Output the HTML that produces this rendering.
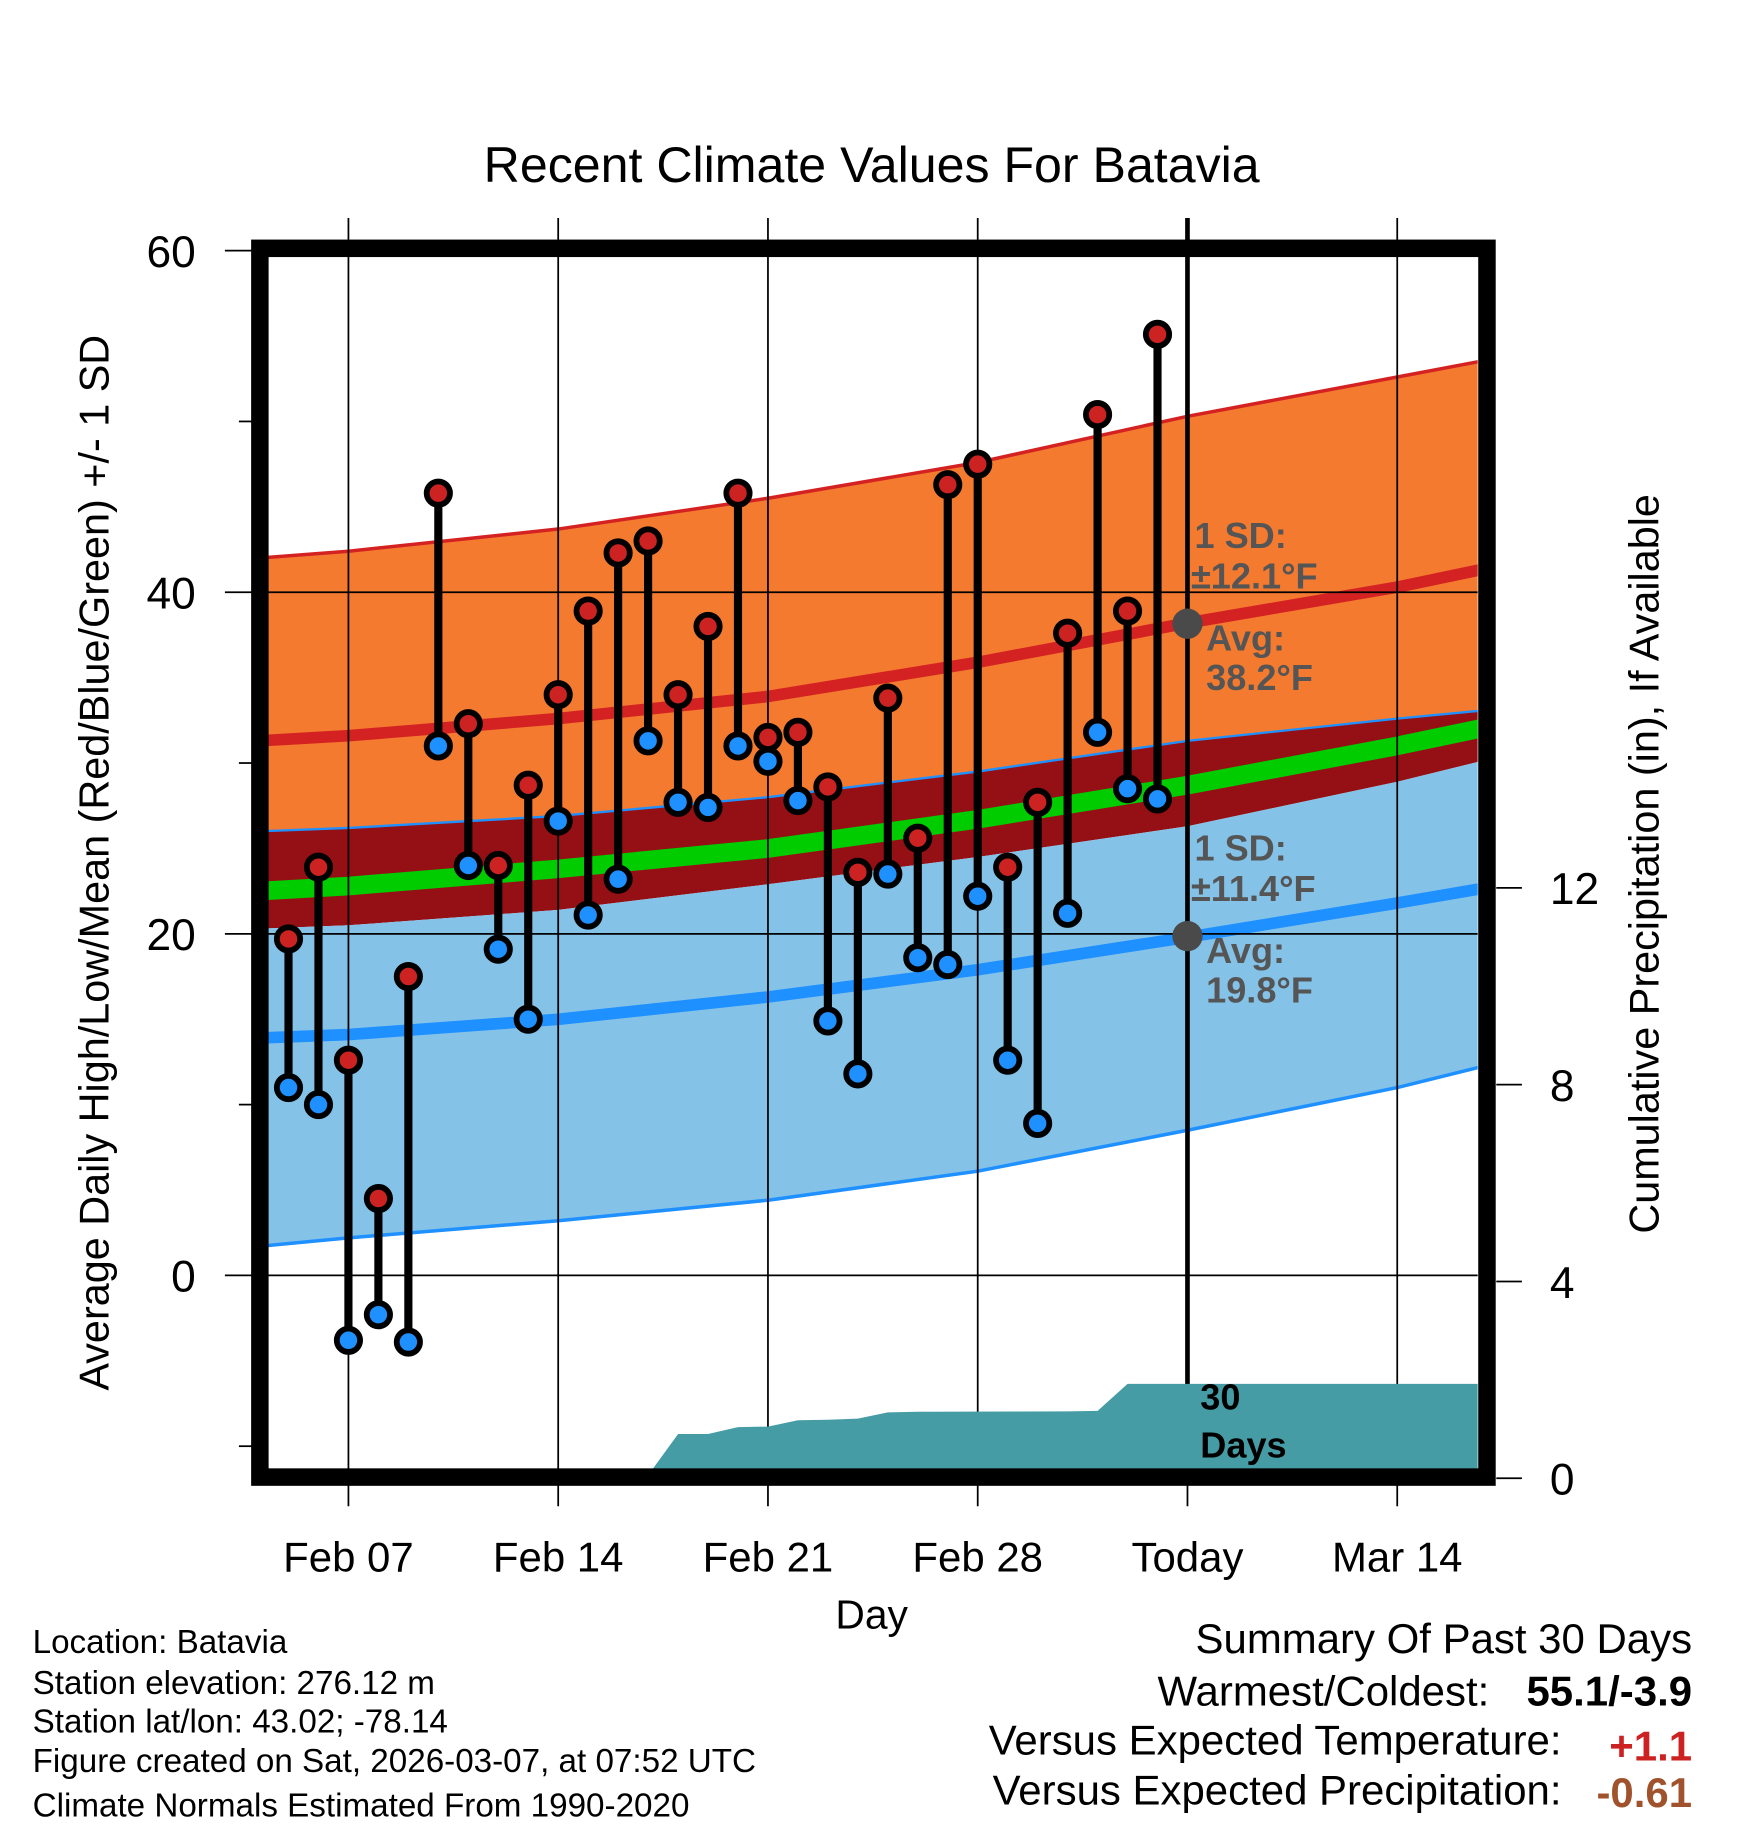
<!DOCTYPE html>
<html><head><meta charset="utf-8"><style>
html,body{margin:0;padding:0;background:#fff}
svg{display:block}
text{font-family:"Liberation Sans",Arial,sans-serif}
</style></head><body>
<svg id="chart" width="1748" height="1828" viewBox="0 0 1500 1568" preserveAspectRatio="none" xmlns="http://www.w3.org/2000/svg">
<g id="bands"></g>
<g id="grid"></g>
<g id="precip"></g>
<g id="obs"></g>
<g id="frame"></g>
<g id="labels"></g>
</svg>
<script>
// ---- data ----
const normDays   = [4, 7, 14, 21, 28, 35, 42, 45];
const highUpper  = [42.0, 42.4, 43.7, 45.5, 47.6, 50.3, 52.6, 53.6];
const highMean   = [31.3, 31.6, 32.6, 33.9, 35.9, 38.2, 40.3, 41.4];
const highLower  = [26.0, 26.2, 26.9, 28.0, 29.5, 31.3, 32.6, 33.1];
const meanNormal = [22.5, 22.8, 23.8, 25.0, 26.7, 28.7, 31.0, 32.1];
const lowUpper   = [20.3, 20.5, 21.4, 22.9, 24.5, 26.3, 28.9, 30.2];
const lowMean    = [13.9, 14.1, 15.0, 16.3, 17.9, 19.8, 21.8, 22.7];
const lowLower   = [1.7, 2.2, 3.2, 4.4, 6.1, 8.5, 11.0, 12.3];

const obsDays = [5,6,7,8,9,10,11,12,13,14,15,16,17,18,19,20,21,22,23,24,25,26,27,28,29,30,31,32,33,34];
const highs = [19.7,23.9,12.6,4.5,17.5,45.8,32.3,24.0,28.7,34.0,38.9,42.3,43.0,34.0,38.0,45.8,31.5,31.8,28.6,23.6,33.8,25.6,46.3,47.5,23.9,27.7,37.6,50.4,38.9,55.1];
const lows  = [11.0,10.0,-3.8,-2.3,-3.9,31.0,24.0,19.1,15.0,26.6,21.1,23.2,31.3,27.7,27.4,31.0,30.1,27.8,14.9,11.8,23.5,18.6,18.2,22.2,12.6,8.9,21.2,31.8,28.5,27.9];
const precipDays = [5,11,11.5,17,18,19,20,21,22,23,24,25,26,31,32,33,34,44.7];
const precipCum  = [0,0,0.06,0.06,0.9,0.9,1.04,1.05,1.18,1.19,1.21,1.34,1.35,1.36,1.37,1.92,1.92,1.92];

const xTickDays = [7,14,21,28,35,42];
const xTickLabels = ["Feb 07","Feb 14","Feb 21","Feb 28","Today","Mar 14"];
const yTicks = [0,20,40,60];
const yMinor = [-10,10,30,50];
const pTicks = [0,4,8,12];

// ---- axes ----
const X0=230, X1=1268, Y0=220, Y1=1260;
const x = d => 299 + (d-7)*180/7;
const y = v => 1094 - v*14.65;
const yp = p => 1268 - p*42.2;
const NS="http://www.w3.org/2000/svg";
function mk(tag, attrs, parent, txt){const e=document.createElementNS(NS,tag);for(const k in attrs)e.setAttribute(k,attrs[k]);if(txt!==undefined)e.textContent=txt;parent.appendChild(e);return e;}
const G=id=>document.getElementById(id);

const defs=mk('defs',{},G('chart'));
const cp=mk('clipPath',{id:'pc'},defs);
mk('rect',{x:X0,y:Y0,width:X1-X0,height:Y1-Y0},cp);
G('bands').setAttribute('clip-path','url(#pc)');
G('precip').setAttribute('clip-path','url(#pc)');

const line = arr => normDays.map((d,i)=>x(d).toFixed(1)+','+y(arr[i]).toFixed(1));
function band(up,lo,fill,name){
  const pts=line(up).concat(line(lo).reverse());
  const p=mk('polygon',{points:pts.join(' '),fill:fill},G('bands'));
  
  
}
function pl(arr,stroke,w,name){
  const p=mk('polyline',{points:line(arr).join(' '),fill:'none',stroke:stroke,'stroke-width':w},G('bands'));
  
  
}
band(highUpper,highLower,'#f47a30','high-sd-band');
band(highLower,lowUpper,'#951015','overlap-band');
band(lowUpper,lowLower,'#84c2e8','low-sd-band');
pl(meanNormal,'#00cc00',16,'mean-normal-line');
pl(highMean,'#d42222',10,'high-mean-line');
pl(lowMean,'#1e90ff',10,'low-mean-line');
pl(highUpper,'#d42222',3,'high-upper-line');
pl(highLower,'#1e90ff',2,'high-lower-line');
pl(lowLower,'#1e90ff',3,'low-lower-line');

yTicks.forEach(v=>{ if(v<60){ mk('line',{x1:X0,x2:X1,y1:y(v),y2:y(v),stroke:'#000','stroke-width':1.5},G('grid')); }
  mk('line',{x1:193,x2:216,y1:y(v),y2:y(v),stroke:'#000','stroke-width':1.5},G('grid'));
  const t=mk('text',{x:168,y:y(v)+14,'font-size':38,'text-anchor':'end'},G('labels'),String(v));
   
});
yMinor.forEach(v=>mk('line',{x1:205,x2:216,y1:y(v),y2:y(v),stroke:'#000','stroke-width':1.5},G('grid')));
xTickDays.forEach((d,i)=>{
  mk('line',{x1:x(d),x2:x(d),y1:187,y2:1292,stroke:'#000','stroke-width':1.5},G('grid'));
  const t=mk('text',{x:x(d),y:1348,'font-size':36,'text-anchor':'middle'},G('labels'),xTickLabels[i]);
   
});
pTicks.forEach(p=>{
  mk('line',{x1:1284,x2:1306,y1:yp(p),y2:yp(p),stroke:'#000','stroke-width':1.5},G('grid'));
  const t=mk('text',{x:1330,y:yp(p)+14,'font-size':38},G('labels'),String(p));
   
});

{
  const pts=precipDays.map((d,i)=>x(d).toFixed(1)+','+yp(precipCum[i]).toFixed(1));
  pts.push(x(44.7)+','+(Y1+10)); pts.push(x(5)+','+(Y1+10));
  const p=mk('polygon',{points:pts.join(' '),fill:'#469ca4'},G('precip'));
  
  
}
mk('line',{x1:x(35),x2:x(35),y1:187,y2:1262,stroke:'#000','stroke-width':4},G('grid'));

obsDays.forEach((d,i)=>{
  const g=mk('g',{},G('obs'));
  
  
  mk('line',{x1:x(d),x2:x(d),y1:y(highs[i]),y2:y(lows[i]),stroke:'#000','stroke-width':7},g);
  const h=mk('circle',{cx:x(d),cy:y(highs[i]),r:10,fill:'#cc2222',stroke:'#000','stroke-width':5},g);
   
  const l=mk('circle',{cx:x(d),cy:y(lows[i]),r:10,fill:'#1e90ff',stroke:'#000','stroke-width':5},g);
   
});

mk('rect',{x:223,y:213,width:1053,height:1054,fill:'none',stroke:'#000','stroke-width':15},G('frame'));
</script>
<script>
const L=document.getElementById('labels');
const NS2="http://www.w3.org/2000/svg";
function t(x,y,s,str,attrs,name){const e=document.createElementNS(NS2,'text');e.setAttribute('x',x);e.setAttribute('y',y);e.setAttribute('font-size',s);for(const k in (attrs||{}))e.setAttribute(k,attrs[k]);e.textContent=str;


L.appendChild(e);return e;}
t(748,156,43,'Recent Climate Values For Batavia',{'text-anchor':'middle'},'chart-title');
t(748,1397,35,'Day',{'text-anchor':'middle'},'x-axis-title');
t(0,0,35.5,'Average Daily High/Low/Mean (Red/Blue/Green) +/- 1 SD',{'text-anchor':'middle',transform:'translate(93,740) rotate(-90)'},'y-axis-title');
t(0,0,35.5,'Cumulative Precipitation (in), If Available',{'text-anchor':'middle',transform:'translate(1423,741) rotate(-90)'},'precip-axis-title');
const gs={fill:'#555','font-weight':'bold'};
t(1025,470,31,'1 SD:',gs,'high-sd-label');
t(1022,505,31,'±12.1°F',gs,'high-sd-value');
t(1035,558,31,'Avg:',gs,'high-avg-label');
t(1035,592,31,'38.2°F',gs,'high-avg-value');
t(1025,738,31,'1 SD:',gs,'low-sd-label');
t(1022,773,31,'±11.4°F',gs,'low-sd-value');
t(1035,826,31,'Avg:',gs,'low-avg-label');
t(1035,860,31,'19.8°F',gs,'low-avg-value');
const c1=document.createElementNS(NS2,'circle');c1.setAttribute('cx',1019);c1.setAttribute('cy',535);c1.setAttribute('r',13);c1.setAttribute('fill','#4a4a4a');


L.appendChild(c1);
const c2=document.createElementNS(NS2,'circle');c2.setAttribute('cx',1019);c2.setAttribute('cy',803);c2.setAttribute('r',13);c2.setAttribute('fill','#4a4a4a');


L.appendChild(c2);
t(1030,1209,31,'30',{'font-weight':'bold'},'precip-period-label');
t(1030,1250,31,'Days',{'font-weight':'bold'},'precip-period-label-2');
t(28,1418,28.5,'Location: Batavia',{},'location-text');
t(28,1453,28.5,'Station elevation: 276.12 m',{},'elevation-text');
t(28,1486,28.5,'Station lat/lon: 43.02; -78.14',{},'latlon-text');
t(28,1520,28.5,'Figure created on Sat, 2026-03-07, at 07:52 UTC',{},'created-text');
t(28,1558,28.5,'Climate Normals Estimated From 1990-2020',{},'normals-text');
t(1452,1418,36,'Summary Of Past 30 Days',{'text-anchor':'end'},'summary-title');
t(1278,1463,36,'Warmest/Coldest:',{'text-anchor':'end'},'warmest-coldest-label');
t(1452,1463,36,'55.1/-3.9',{'text-anchor':'end','font-weight':'bold'},'warmest-coldest-value');
t(1340,1505,36,'Versus Expected Temperature:',{'text-anchor':'end'},'temp-departure-label');
t(1452,1510,36,'+1.1',{'text-anchor':'end','font-weight':'bold',fill:'#cc2222'},'temp-departure-value');
t(1340,1548,36,'Versus Expected Precipitation:',{'text-anchor':'end'},'precip-departure-label');
t(1452,1550,36,'-0.61',{'text-anchor':'end','font-weight':'bold',fill:'#a0522d'},'precip-departure-value');
</script>
</body></html>
